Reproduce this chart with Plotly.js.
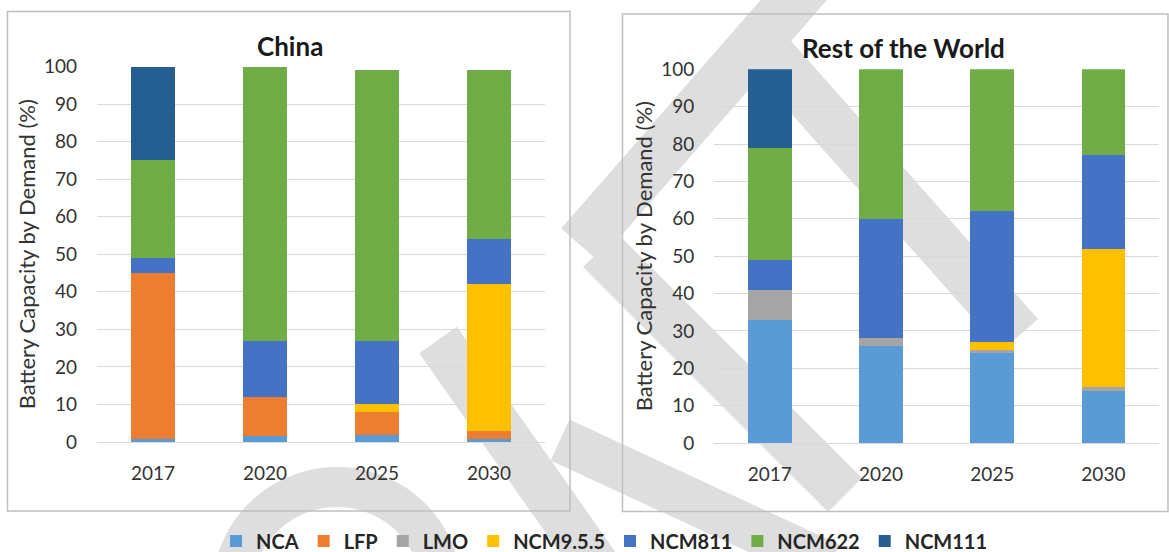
<!DOCTYPE html>
<html>
<head>
<meta charset="utf-8">
<script src="https://cdn.plot.ly/plotly-3.0.1.min.js"></script>
<style>html,body{margin:0;padding:0;background:#fff;}#chart{width:1169px;height:552px;}</style>
</head>
<body>
<div id="chart"></div>
<script>
// ---------- data ----------
const years = ['2017', '2020', '2025', '2030'];
const seriesNames = ['NCA', 'LFP', 'LMO', 'NCM9.5.5', 'NCM811', 'NCM622', 'NCM111'];
const seriesColors = ['#5B9BD5', '#ED7D31', '#A5A5A5', '#FFC000', '#4472C4', '#70AD47', '#255E91'];

// China (%)
const chinaNCA    = [0.7, 1.7, 1.9, 0.7];
const chinaLFP    = [44.3, 10.3, 6.1, 2.3];
const chinaLMO    = [0, 0, 0, 0];
const chinaNCM955 = [0, 0, 2, 39];
const chinaNCM811 = [4, 15, 17, 12];
const chinaNCM622 = [26, 73, 72, 45];
const chinaNCM111 = [25, 0, 0, 0];

// Rest of the World (%)
const rowNCA    = [33, 26, 24, 14];
const rowLFP    = [0, 0, 0, 0];
const rowLMO    = [8, 2, 1, 1];
const rowNCM955 = [0, 0, 2, 37];
const rowNCM811 = [8, 32, 35, 25];
const rowNCM622 = [30, 40, 38, 23];
const rowNCM111 = [21, 0, 0, 0];

const yTicks = [0, 10, 20, 30, 40, 50, 60, 70, 80, 90, 100];
const panelTitles = ['China', 'Rest of the World'];
const yAxisTitle = 'Battery Capacity by Demand (%)';

// ---------- layout helpers ----------
const W = 1169, H = 552;
const px = x => x / W;
const py = y => 1 - y / H;

const chinaSeries = [chinaNCA, chinaLFP, chinaLMO, chinaNCM955, chinaNCM811, chinaNCM622, chinaNCM111];
const rowSeries = [rowNCA, rowLFP, rowLMO, rowNCM955, rowNCM811, rowNCM622, rowNCM111];

const traces = [];
seriesNames.forEach((name, i) => {
  traces.push({
    type: 'bar', name: name, x: years, y: chinaSeries[i],
    xaxis: 'x', yaxis: 'y', legendgroup: name, showlegend: true,
    marker: {color: seriesColors[i], line: {width: 0}},
    hoverinfo: 'name+y'
  });
});
seriesNames.forEach((name, i) => {
  traces.push({
    type: 'bar', name: name, x: years, y: rowSeries[i],
    xaxis: 'x2', yaxis: 'y2', legendgroup: name, showlegend: false,
    marker: {color: seriesColors[i], line: {width: 0}},
    hoverinfo: 'name+y'
  });
});

const tickFont = {family: 'Lato, sans-serif', size: 19, color: '#333333'};
const titleFont = {family: 'Lato, sans-serif', size: 22, color: '#333333'};

function yAxis(domainBottom, domainTop, anchor) {
  return {
    domain: [domainBottom, domainTop], anchor: anchor,
    range: [0, 100], tickvals: yTicks, ticks: '',
    showgrid: true, gridcolor: '#d9d9d9', gridwidth: 1.3,
    zeroline: false, showline: false,
    tickfont: tickFont, ticklabelstandoff: 19,
    title: {text: yAxisTitle, font: titleFont, standoff: 2},
    automargin: false, fixedrange: true
  };
}
function xAxis(domainLeft, domainRight, anchor) {
  return {
    domain: [domainLeft, domainRight], anchor: anchor,
    type: 'category', ticks: '', showgrid: false, zeroline: false,
    showline: true, linecolor: '#d9d9d9', linewidth: 1.3,
    tickfont: tickFont, ticklabelstandoff: 14,
    automargin: false, fixedrange: true
  };
}

// watermark strokes (decorative, pixel coords)
const wmColor = '#dedede';
function seg(x0, y0, x1, y1, w) {
  return {type: 'line', xref: 'paper', yref: 'paper', layer: 'below',
    x0: px(x0), y0: py(y0), x1: px(x1), y1: py(y1),
    line: {color: wmColor, width: w}};
}
function arc(cx, cy, r, a0, a1, w) {
  let d = '';
  for (let k = 0; k <= 40; k++) {
    const t = (a0 + (a1 - a0) * k / 40) * Math.PI / 180;
    const x = cx + r * Math.cos(t), y = cy - r * Math.sin(t);
    d += (k === 0 ? 'M' : 'L') + px(x).toFixed(5) + ',' + py(y).toFixed(5);
  }
  return {type: 'path', xref: 'paper', yref: 'paper', layer: 'below', path: d,
    line: {color: wmColor, width: w}};
}
const shapes = [
  arc(337, 592, 105, 5, 175, 40),
  seg(438, 340, 600, 570, 46),
  seg(820, -30, 580, 245, 50),
  seg(600, 250, 845, 495, 48),
  seg(758, 40, 1020, 335, 48),
  seg(560, 440, 830, 565, 45),
  // panel borders
  {type: 'rect', xref: 'paper', yref: 'paper', layer: 'above',
   x0: px(7.5), y0: py(511), x1: px(570), y1: py(11.5),
   line: {color: '#bfbfbf', width: 1.5}},
  {type: 'rect', xref: 'paper', yref: 'paper', layer: 'above',
   x0: px(622.5), y0: py(511.5), x1: px(1168), y1: py(14),
   line: {color: '#bfbfbf', width: 1.5}}
];

const layout = {
  width: W, height: H,
  margin: {l: 0, r: 0, t: 0, b: 0, autoexpand: false},
  paper_bgcolor: '#ffffff', plot_bgcolor: 'rgba(0,0,0,0)',
  barmode: 'stack', bargap: 0.607,
  xaxis: xAxis(px(97), px(545), 'y'),
  yaxis: yAxis(py(442), py(66.5), 'x'),
  xaxis2: xAxis(px(714.2), px(1159), 'y2'),
  yaxis2: yAxis(py(443), py(69.3), 'x2'),
  showlegend: true,
  legend: {
    orientation: 'h', x: px(604.5), xanchor: 'center',
    y: py(541), yanchor: 'middle',
    font: {family: 'Lato, sans-serif', size: 20, color: '#262626', weight: 'bold'},
    traceorder: 'normal', bgcolor: 'rgba(0,0,0,0)', itemclick: false, itemdoubleclick: false
  },
  annotations: [
    {text: panelTitles[0], xref: 'paper', yref: 'paper', x: px(290), y: py(46),
     xanchor: 'center', yanchor: 'middle', showarrow: false,
     font: {family: 'Lato, sans-serif', size: 26, color: '#1a1a1a', weight: 'bold'}},
    {text: panelTitles[1], xref: 'paper', yref: 'paper', x: px(903), y: py(48),
     xanchor: 'center', yanchor: 'middle', showarrow: false,
     font: {family: 'Lato, sans-serif', size: 26, color: '#1a1a1a', weight: 'bold'}}
  ],
  shapes: shapes
};

Plotly.newPlot('chart', traces, layout, {displayModeBar: false, responsive: false});
</script>
</body>
</html>
